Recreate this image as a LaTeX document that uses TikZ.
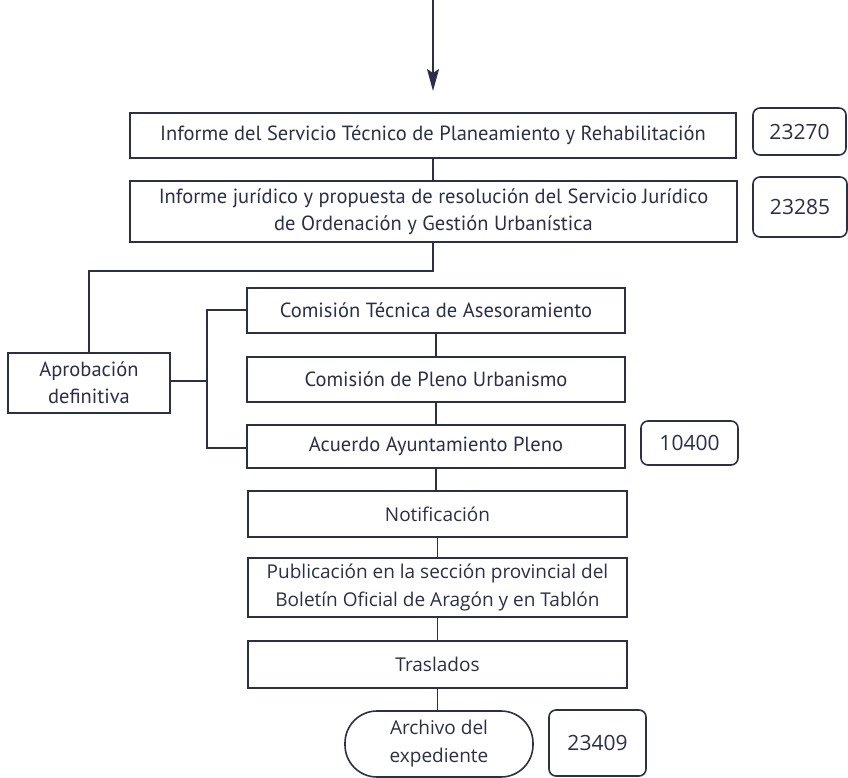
\documentclass[tikz,border=0pt]{standalone}
\usepackage{fontspec}
\setmainfont{PT Sans}
\newfontfamily\widefont{Open Sans}
\usetikzlibrary{arrows.meta}
\definecolor{ink}{HTML}{2B2F4C}
\begin{document}
\begin{tikzpicture}[x=1pt,y=-1pt,
  every node/.style={text=ink},
  stepbox/.style={draw=ink, line width=1.6pt, fill=white, align=center, inner sep=0pt},
  numbox/.style={draw=ink, line width=1.6pt, rounded corners=7pt, fill=white, align=center, inner sep=0pt,
    font=\widefont\fontsize{21}{26}\selectfont},
  narrow/.style={font=\fontsize{20.5}{27}\selectfont},
  wide/.style={font=\widefont\fontsize{19}{28}\selectfont},
  link/.style={draw=ink, line width=1.6pt}]
\useasboundingbox (0,0) rectangle (848,778);

% entry arrow
\coordinate (top) at (433,0);
\coordinate (tip) at (433,91);

\node[stepbox,narrow,minimum width=606pt,minimum height=45pt] (informe) at (433,135.5)
  {Informe del Servicio Técnico de Planeamiento y Rehabilitación};
\node[numbox,minimum width=93pt,minimum height=47pt] (n23270) at (799.5,131.5) {23270};

\node[stepbox,narrow,minimum width=607pt,minimum height=61pt] (juridico) at (433.5,211.5)
  {Informe jurídico y propuesta de resolución del Servicio Jurídico\\de Ordenación y Gestión Urbanística};
\node[numbox,minimum width=94pt,minimum height=60pt] (n23285) at (800,207) {23285};

\node[stepbox,narrow,minimum width=162pt,minimum height=60pt] (aprob) at (89,383)
  {Aprobación\\definitiva};

\node[stepbox,narrow,minimum width=378pt,minimum height=45pt] (cta) at (436,310.5)
  {Comisión Técnica de Asesoramiento};
\node[stepbox,narrow,minimum width=378pt,minimum height=45pt] (cpu) at (436,379.5)
  {Comisión de Pleno Urbanismo};
\node[stepbox,narrow,minimum width=378pt,minimum height=43pt] (acuerdo) at (436,446.5)
  {Acuerdo Ayuntamiento Pleno};
\node[numbox,minimum width=97pt,minimum height=44pt] (n10400) at (689.5,443) {10400};

\node[stepbox,wide,minimum width=379pt,minimum height=46pt] (notif) at (437.5,514) {Notificación};
\node[stepbox,wide,minimum width=379pt,minimum height=59pt] (publ) at (437.5,587.5)
  {Publicación en la sección provincial del\\Boletín Oficial de Aragón y en Tablón};
\node[stepbox,wide,minimum width=379pt,minimum height=47pt] (trasl) at (437.5,664.5) {Traslados};

\node[stepbox,wide,rounded corners=32pt,minimum width=188pt,minimum height=66pt] (archivo) at (439,744)
  {Archivo del\\expediente};
\node[numbox,minimum width=97pt,minimum height=66pt] (n23409) at (597.5,743) {23409};

% connectors
\draw[link,-{Stealth[length=22pt,width=12pt,inset=4pt]}] (top) -- (tip);
\draw[link] (informe.south -| top) -- (juridico.north -| top);
\draw[link] (juridico.south -| top) -- ++(0,28) -| (aprob.north);
\coordinate (fork) at (207,381);
\draw[link] (aprob.east |- fork) -- (fork);
\draw[link] (cta.west |- 0,310) -| (fork) |- (acuerdo.west |- 0,448);
\draw[link] (cta.south) -- (cpu.north);
\draw[link] (cpu.south) -- (acuerdo.north);
\draw[link] (acuerdo.south) -- (notif.north -| acuerdo.south);
\draw[link] (notif.south) -- (publ.north);
\draw[link] (publ.south) -- (trasl.north);
\draw[link] (trasl.south) -- (archivo.north -| trasl.south);
\end{tikzpicture}
\end{document}
